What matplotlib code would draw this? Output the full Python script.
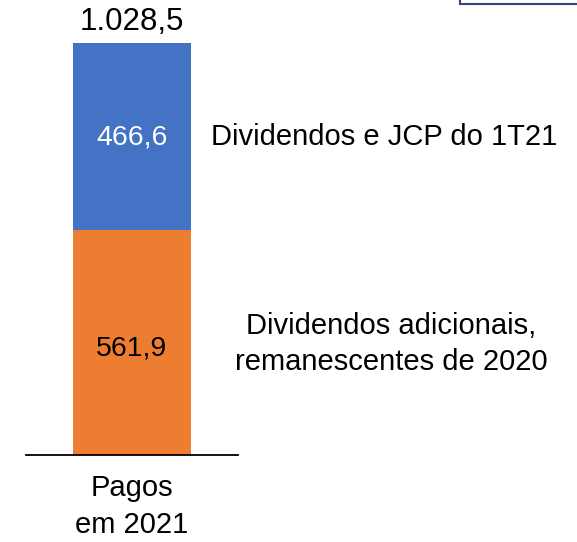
import matplotlib.pyplot as plt
from matplotlib.patches import Rectangle

plt.rcParams['font.family'] = ['Liberation Sans', 'DejaVu Sans']

# values (R$ milhões)
category = ['Pagos\nem 2021']
remanescentes_2020 = [561.9]
dividendos_1t21 = [466.6]
segment_labels = ['Dividendos adicionais,\nremanescentes de 2020', 'Dividendos e JCP do 1T21']
total_label = '1.028,5'


def fmt(v):
    return f"{v:.1f}".replace('.', ',')


fig = plt.figure(figsize=(5.77, 5.42), dpi=100)
W, H = 577, 542
# axes placed in pixel terms: x 26..238, y(top) 43..455
ax = fig.add_axes([26 / W, (H - 455) / H, 212 / W, 412 / H])

x = [0]
ax.bar(x, remanescentes_2020, width=1.0, color='#ED7D31')
ax.bar(x, dividendos_1t21, width=1.0, bottom=remanescentes_2020, color='#4472C4')

ax.set_xlim(-0.9, 0.9)
total = remanescentes_2020[0] + dividendos_1t21[0]
ax.set_ylim(0, total)

for s in ['top', 'right', 'left']:
    ax.spines[s].set_visible(False)
ax.spines['bottom'].set_linewidth(1.3)
ax.spines['bottom'].set_color('black')
ax.set_yticks([])
ax.set_xticks(x)
ax.set_xticklabels(category, fontsize=21, linespacing=1.38)
ax.tick_params(axis='x', length=0, pad=14)

# values inside bars
ax.text(0, remanescentes_2020[0] / 2 - 14, fmt(remanescentes_2020[0]), ha='center', va='center',
        fontsize=20.5, color='black')
ax.text(0, remanescentes_2020[0] + dividendos_1t21[0] / 2 - 3, fmt(dividendos_1t21[0]), ha='center',
        va='center', fontsize=20.5, color='white')
ax.text(0, total + 15, total_label, ha='center', va='bottom', fontsize=22.5, clip_on=False)

# segment descriptions to the right
fig.text(391 / W, 1 - 344 / H, segment_labels[0], ha='center', va='center', fontsize=21,
         linespacing=1.38)
fig.text(384 / W, 1 - 137 / H, segment_labels[1], ha='center', va='center', fontsize=21)

# leftover box edge at top-right
fig.patches.append(Rectangle((460 / W, 538.5 / H), 0.3, 0.1, transform=fig.transFigure,
                             facecolor='white', edgecolor='#34477A', linewidth=1.5))

fig.savefig('out.png', dpi=100)
